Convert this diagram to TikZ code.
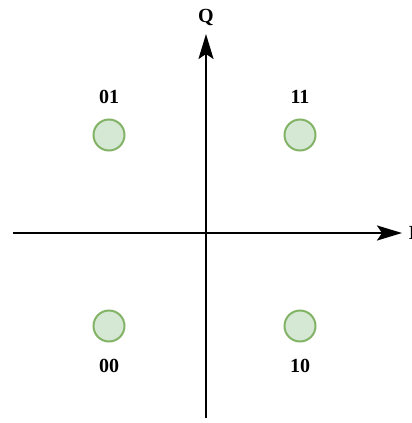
\documentclass[tikz,border=0pt]{standalone}
\usepackage{fontspec}
\setmainfont{Liberation Serif}
\usetikzlibrary{arrows.meta}
\definecolor{ptfill}{HTML}{D5E8D4}
\definecolor{ptline}{HTML}{82B366}
\begin{document}
\begin{tikzpicture}[x=1pt,y=-1pt,
  axis/.style={line width=2.2pt,-{Stealth[length=25pt,width=15pt,inset=5pt]}},
  pt/.style={circle,draw=ptline,fill=ptfill,line width=2pt,minimum size=31pt,inner sep=0pt},
  lbl/.style={font=\fontsize{20}{22}\selectfont\bfseries,inner sep=0pt}]
\useasboundingbox (0,0) rectangle (412,423);
\coordinate (xs) at (13,233);
\coordinate (xe) at (402,233);
\coordinate (ys) at (206,418);
\coordinate (ye) at (206,34);
\draw[axis] (xs) -- (xe);
\draw[axis] (ys) -- (ye);
\node[lbl] (Q) at (206,17) {Q};
\node[lbl,anchor=west] (I) at (408.5,233) {I};
\node[pt] (p01) at (109,135) {};
\node[pt] (p11) at (300,135) {};
\node[pt] (p00) at (109,326) {};
\node[pt] (p10) at (300,326) {};
\node[lbl] (l01) at (109,97) {01};
\node[lbl] (l11) at (300,97) {11};
\node[lbl] (l00) at (109,366) {00};
\node[lbl] (l10) at (300,366) {10};
\end{tikzpicture}
\end{document}
